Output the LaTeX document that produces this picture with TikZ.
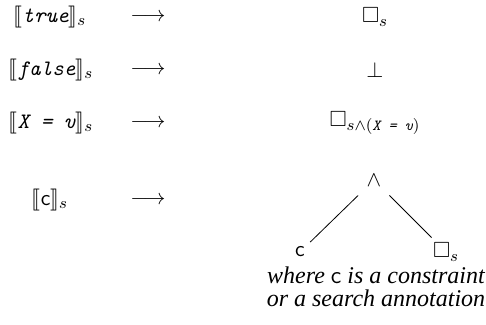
\documentclass[tikz,border=0pt]{standalone}
\usepackage{amsmath}
\usepackage{amssymb}
\usepackage{stmaryrd}
\usepackage{fontspec}
\newfontfamily\timesfont{Liberation Serif}
\newcommand{\ttit}[1]{\text{\ttfamily\itshape #1}}
\tikzset{
  lbl/.style={inner sep=0pt, font=\fontsize{11}{13}\selectfont},
  note/.style={inner sep=0pt, align=center, font=\fontsize{12}{11.5}\selectfont\timesfont\itshape},
  edge/.style={draw=black, line width=0.4pt}
}
\begin{document}
\begin{tikzpicture}[x=0.5pt,y=-0.5pt]
\useasboundingbox (0,0) rectangle (486,325);
% row 1
\node[lbl] (l1) at (50,17) {$\llbracket\ttit{true}\rrbracket_s$};
\node[lbl] (a1) at (148,17) {$\longrightarrow$};
\node[lbl] (r1) at (375,17) {$\Box_s$};
% row 2
\node[lbl] (l2) at (51,70) {$\llbracket\ttit{false}\rrbracket_s$};
\node[lbl] (a2) at (148,70) {$\longrightarrow$};
\node[lbl] (r2) at (375,70) {$\bot$};
% row 3
\node[lbl] (l3) at (51,123) {$\llbracket\ttit{X = v}\rrbracket_s$};
\node[lbl] (a3) at (148,123) {$\longrightarrow$};
\node[lbl] (r3) at (375,123) {$\Box_{s\wedge(\ttit{X = v})}$};
% row 4
\node[lbl] (l4) at (50,200) {$\llbracket\textsf{c}\rrbracket_s$};
\node[lbl] (a4) at (148,200) {$\longrightarrow$};
\node[lbl, inner sep=4.5pt] (and) at (374,180) {$\wedge$};
\node[lbl, inner sep=2.5pt] (cc) at (300,252) {\textsf{c}};
\node[lbl, inner sep=2.5pt] (bs) at (446,252) {$\Box_s$};
\draw[edge] (and) -- (cc);
\draw[edge] (and) -- (bs);
\node[note] (nt) at (376,287) {where \textsf{\upshape c} is a constraint\\or a search annotation};
\end{tikzpicture}
\end{document}
